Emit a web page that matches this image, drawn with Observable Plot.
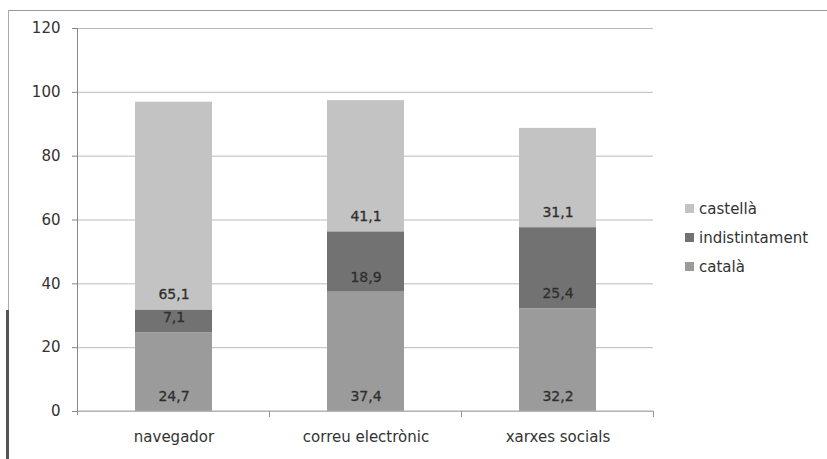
<!DOCTYPE html>
<html>
<head>
<meta charset="utf-8">
<script src="https://cdn.jsdelivr.net/npm/d3@7"></script>
<script src="https://cdn.jsdelivr.net/npm/@observablehq/plot@0.6"></script>
<style>
  html, body { margin: 0; padding: 0; background: #fff; }
  #wrap { position: relative; width: 827px; height: 459px; overflow: hidden; }
  #legend { position: absolute; left: 685px; top: 194px; font-family: "DejaVu Sans", sans-serif; font-size: 15px; color: #333; }
  #legend div { display: flex; align-items: center; height: 29px; }
  #legend span.sw { display: inline-block; width: 9px; height: 9px; margin-right: 5px; }
  .frame { position: absolute; background: #999; }
</style>
</head>
<body>
<div id="wrap">
  <div id="chart"></div>
  <div id="legend"></div>
  <div class="frame" style="left:8px;top:10px;width:819px;height:1px;"></div>
  <div class="frame" style="left:8px;top:10px;width:1px;height:300px;background:#aaa;"></div>
  <div class="frame" style="left:6px;top:310px;width:3px;height:149px;background:#555;"></div>
</div>
<script>
const categories = ["navegador", "correu electrònic", "xarxes socials"];
const series = ["català", "indistintament", "castellà"];
const catala = [24.7, 37.4, 32.2];
const indistintament = [7.1, 18.9, 25.4];
const castella = [65.1, 41.1, 31.1];
const colors = ["#9b9b9b", "#727272", "#c3c3c3"];
const yTicks = [0, 20, 40, 60, 80, 100, 120];

const values = [catala, indistintament, castella];
const data = [];
series.forEach((s, si) => categories.forEach((c, ci) => data.push({cat: c, series: s, value: values[si][ci]})));

const fmt = v => v.toFixed(1).replace(".", ",");
const font = '"DejaVu Sans", sans-serif';

const chart = Plot.plot({
  width: 827,
  height: 459,
  marginLeft: 77,
  marginRight: 174,
  marginTop: 28,
  marginBottom: 48,
  style: {fontFamily: font, fontSize: "15px", color: "#333", background: "transparent"},
  x: {domain: categories, paddingInner: 0.6, paddingOuter: 0.3, label: null},
  y: {domain: [0, 120], label: null},
  color: {domain: series, range: colors},
  marks: [
    Plot.ruleY(yTicks, {stroke: "#bcbcbc", strokeWidth: 1}),
    Plot.barY(data, Plot.stackY({x: "cat", y: "value", fill: "series", order: series})),
    Plot.text(data, Plot.stackY1({x: "cat", y: "value", z: "series", order: series, text: d => fmt(d.value), dy: -15, fill: "#2e2e2e", fontSize: 14, stroke: "#2e2e2e", strokeWidth: 0.3})),
    Plot.axisY(yTicks, {tickSize: 5, tickPadding: 12, stroke: "#888", fill: "#333", fontSize: 15, label: null}),
    Plot.axisX({tickSize: 0, tickPadding: 20, fill: "#333", fontSize: 15, label: null})
  ]
});

// axis lines & category boundary ticks via scales
const svg = d3.select(chart);
const xs = chart.scale("x");
const ys = chart.scale("y");
const step = xs.step;
const left = xs.apply(categories[0]) - (step - xs.bandwidth) / 2;
const y0 = ys.apply(0);
const yTop = ys.apply(120);
svg.append("line").attr("x1", left).attr("x2", left).attr("y1", yTop).attr("y2", y0 + 4).attr("stroke", "#888");
svg.append("line").attr("x1", left).attr("x2", left + step * categories.length).attr("y1", y0).attr("y2", y0).attr("stroke", "#aaa");
for (let i = 1; i <= categories.length; i++) {
  const x = left + step * i;
  svg.append("line").attr("x1", x).attr("x2", x).attr("y1", y0).attr("y2", y0 + 6).attr("stroke", "#999");
}
document.getElementById("chart").appendChild(chart);

const legend = document.getElementById("legend");
[...series].reverse().forEach(s => {
  const d = document.createElement("div");
  d.innerHTML = `<span class="sw" style="background:${colors[series.indexOf(s)]}"></span>${s}`;
  legend.appendChild(d);
});
</script>
</body>
</html>
